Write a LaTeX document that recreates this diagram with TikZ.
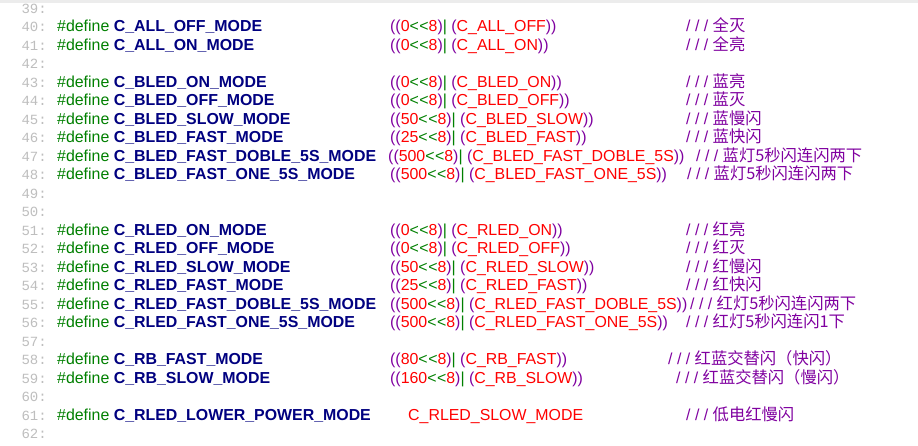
\documentclass[tikz,border=0pt]{standalone}
\usepackage{fontspec}
\setmainfont{Liberation Sans}
\newfontfamily\mono{Liberation Mono}
\newfontfamily\cjk{Noto Sans CJK SC}
\definecolor{kw}{RGB}{0,128,0}
\definecolor{nm}{RGB}{0,0,128}
\definecolor{pu}{RGB}{128,0,160}
\definecolor{rd}{RGB}{255,0,0}
\definecolor{gr}{RGB}{190,190,190}
\newcommand{\vl}[2]{\textcolor{pu}{((}\textcolor{rd}{#1}\textcolor{kw}{{<}\kern0.5pt{<}}\textcolor{rd}{8}\textcolor{pu}{)}\textcolor{kw}{|}\ \textcolor{pu}{(}\textcolor{rd}{#2}\textcolor{pu}{))}}
\newcommand{\cm}[1]{\textcolor{pu}{/ / /}\ {\cjk\fontsize{16.3}{16.3}\selectfont\textcolor{pu}{#1}}}
\tikzset{t/.style={anchor=base west,inner sep=0pt,font=\fontsize{15.9}{15.9}\selectfont},
 no/.style={anchor=base east,inner sep=0pt,font=\mono\fontsize{14}{14}\selectfont,text=gr}}
\newcommand{\LN}[1]{\node[no] (n#1) at (47,{32+(#1-40)*18.48}) {#1:};}
\newcommand{\DF}[2]{\node[t] (d#1) at (57,{32+(#1-40)*18.48}) {\textcolor{kw}{\#define} \textcolor{nm}{\bfseries #2}};}
\newcommand{\VL}[4]{\node[t] (v#1) at (#2,{32+(#1-40)*18.48}) {\vl{#3}{#4}};}
\newcommand{\CM}[3]{\node[t] (c#1) at (#2,{32+(#1-40)*18.48}) {\cm{#3}};}
\begin{document}
\begin{tikzpicture}[x=1pt,y=-1pt]
\useasboundingbox (0,0) rectangle (918,446);
\fill[white] (0,0) rectangle (918,446);
\fill[gray!15] (0,0) rectangle (918,3);
\foreach \n in {39,...,62} {\LN{\n}}
\DF{40}{C\_ALL\_OFF\_MODE}\VL{40}{390}{0}{C\_ALL\_OFF}\CM{40}{686}{全灭}
\DF{41}{C\_ALL\_ON\_MODE}\VL{41}{390}{0}{C\_ALL\_ON}\CM{41}{686}{全亮}
\DF{43}{C\_BLED\_ON\_MODE}\VL{43}{390}{0}{C\_BLED\_ON}\CM{43}{686}{蓝亮}
\DF{44}{C\_BLED\_OFF\_MODE}\VL{44}{390}{0}{C\_BLED\_OFF}\CM{44}{686}{蓝灭}
\DF{45}{C\_BLED\_SLOW\_MODE}\VL{45}{390}{50}{C\_BLED\_SLOW}\CM{45}{686}{蓝慢闪}
\DF{46}{C\_BLED\_FAST\_MODE}\VL{46}{390}{25}{C\_BLED\_FAST}\CM{46}{686}{蓝快闪}
\DF{47}{C\_BLED\_FAST\_DOBLE\_5S\_MODE}\VL{47}{388}{500}{C\_BLED\_FAST\_DOBLE\_5S}\CM{47}{696}{蓝灯5秒闪连闪两下}
\DF{48}{C\_BLED\_FAST\_ONE\_5S\_MODE}\VL{48}{390}{500}{C\_BLED\_FAST\_ONE\_5S}\CM{48}{687}{蓝灯5秒闪连闪两下}
\DF{51}{C\_RLED\_ON\_MODE}\VL{51}{390}{0}{C\_RLED\_ON}\CM{51}{686}{红亮}
\DF{52}{C\_RLED\_OFF\_MODE}\VL{52}{390}{0}{C\_RLED\_OFF}\CM{52}{686}{红灭}
\DF{53}{C\_RLED\_SLOW\_MODE}\VL{53}{390}{50}{C\_RLED\_SLOW}\CM{53}{686}{红慢闪}
\DF{54}{C\_RLED\_FAST\_MODE}\VL{54}{390}{25}{C\_RLED\_FAST}\CM{54}{686}{红快闪}
\DF{55}{C\_RLED\_FAST\_DOBLE\_5S\_MODE}\VL{55}{390}{500}{C\_RLED\_FAST\_DOBLE\_5S}\CM{55}{690}{红灯5秒闪连闪两下}
\DF{56}{C\_RLED\_FAST\_ONE\_5S\_MODE}\VL{56}{390}{500}{C\_RLED\_FAST\_ONE\_5S}\CM{56}{686}{红灯5秒闪连闪1下}
\DF{58}{C\_RB\_FAST\_MODE}\VL{58}{390}{80}{C\_RB\_FAST}\CM{58}{668}{红蓝交替闪（快闪）}
\DF{59}{C\_RB\_SLOW\_MODE}\VL{59}{390}{160}{C\_RB\_SLOW}\CM{59}{676}{红蓝交替闪（慢闪）}
\DF{61}{C\_RLED\_LOWER\_POWER\_MODE}
\node[t] (v61) at (408,{32+21*18.48}) {\textcolor{rd}{C\_RLED\_SLOW\_MODE}};
\CM{61}{686}{低电红慢闪}
\end{tikzpicture}
\end{document}
